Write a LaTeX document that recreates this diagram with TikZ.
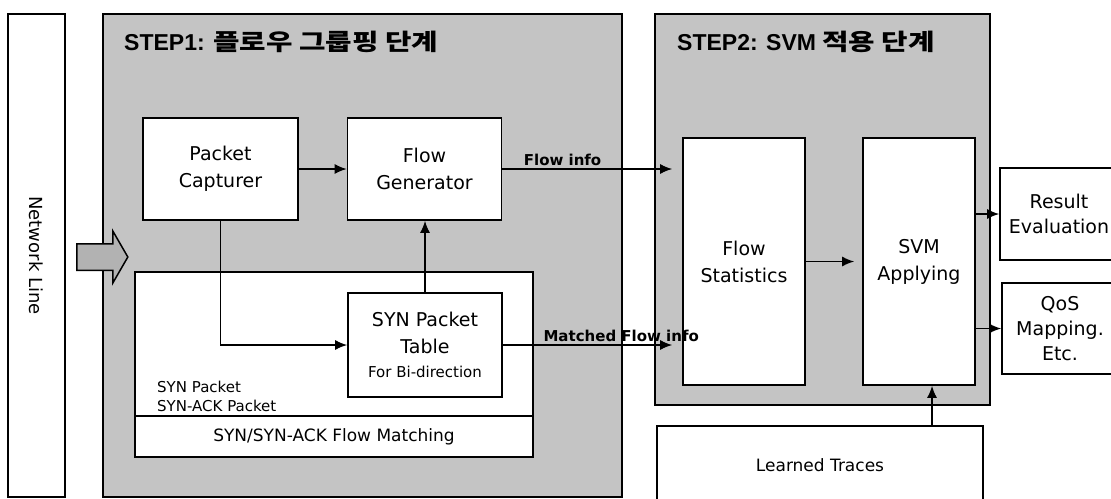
\documentclass[tikz,border=0pt]{standalone}
\usepackage{fontspec}
\setmainfont{DejaVu Sans}
\newfontfamily\titlefont{Liberation Sans}
\newfontfamily\krfont{Noto Sans CJK KR}[FakeStretch=1.25]
\usetikzlibrary{arrows.meta, shapes.arrows}
\tikzset{panel/.style={rectangle,draw,line width=1.6pt,fill=black!23,inner sep=0pt},
  box/.style={rectangle,draw,fill=white,line width=1.6pt,align=center,inner sep=0pt,font=\fontsize{19}{27}\selectfont},
  title/.style={inner sep=0pt,font=\titlefont\bfseries\fontsize{23}{26}\selectfont},
  lbl/.style={inner sep=2pt,font=\bfseries\fontsize{15}{17}\selectfont},
  line/.style={-{Latex[length=12pt,width=10pt]},line width=1.6pt}}

\begin{document}
\begin{tikzpicture}[x=1pt,y=-1pt]
\useasboundingbox (0,0) rectangle (1111,498);
\node[box,rotate=-90,minimum width=483pt,minimum height=57pt,font=\fontsize{18}{20}\selectfont] (net) at (36.5,255.5) {Network Line};
\node[panel,minimum width=519pt,minimum height=483pt] (step1) at (362.5,255.5) {};
\node[panel,minimum width=335pt,minimum height=391pt] (step2) at (822.5,209.5) {};
\node[title,anchor=base west] (t1) at (124,50) {STEP1: {\krfont 플로우 그룹핑 단계}};
\node[title,anchor=base west] (t2) at (677,50) {STEP2: SVM {\krfont 적용 단계}};
\node[single arrow,draw,fill=black!30,line width=1.5pt,inner xsep=0pt,inner ysep=12.5pt,minimum height=51pt,single arrow head extend=12.5pt,single arrow tip angle=120] (inarr) at (98.5,257) {};
\node[box,minimum width=155pt,minimum height=102pt] (pc) at (220.5,169) {Packet\\Capturer};
\node[box,minimum width=154pt,minimum height=102pt] (fg) at (424.5,169) {Flow\\Generator};
\node[box,minimum width=398pt,minimum height=144pt] (grp) at (334,344) {};
\node[box,minimum width=398pt,minimum height=41pt,font=\fontsize{17}{20}\selectfont] (strip) at (334,436.5) {SYN/SYN-ACK Flow Matching};
\node[anchor=west,align=left,inner sep=0pt,font=\fontsize{15}{19}\selectfont] (synlbl) at (157,396) {SYN Packet\\SYN-ACK Packet};
\node[box,minimum width=154pt,minimum height=104pt] (tbl) at (425,345) {SYN Packet\\Table\\[-3pt]\fontsize{15}{18}\selectfont For Bi-direction};
\node[box,minimum width=122pt,minimum height=247pt] (stats) at (744,261.5) {Flow\\Statistics};
\node[box,minimum width=112pt,minimum height=247pt] (svm) at (919,261.5) {SVM\\Applying};
\node[box,minimum width=118pt,minimum height=92pt,font=\fontsize{19}{25}\selectfont] (res) at (1059,214) {Result\\Evaluation};
\node[box,minimum width=116pt,minimum height=91pt,font=\fontsize{19}{25}\selectfont] (qos) at (1060,328.5) {QoS\\Mapping.\\Etc.};
\node[box,minimum width=326pt,minimum height=79pt,font=\fontsize{17}{20}\selectfont] (lt) at (820,465.5) {Learned Traces};
\coordinate (ltin) at ([xshift=13pt]svm.south);

\draw[line] (pc) -- (fg);
\draw[line,shorten >=10pt] (fg.east) -- (fg.east -| stats.west) node[lbl,pos=0.335,above] {Flow info};
\draw[line] (pc.south) |- (tbl.west);
\draw[line] (tbl.north) -- (tbl.north |- fg.south);
\draw[line,shorten >=10pt] (tbl.east) -- (tbl.east -| stats.west) node[lbl,pos=0.66,above] {Matched Flow info};
\draw[line,shorten >=8pt] (stats) -- (svm);
\draw[line] (svm.east |- res.west) -- (res.west);
\draw[line] (svm.east |- qos.west) -- (qos.west);
\draw[line] (lt.north -| ltin) -- (ltin);
\end{tikzpicture}
\end{document}
